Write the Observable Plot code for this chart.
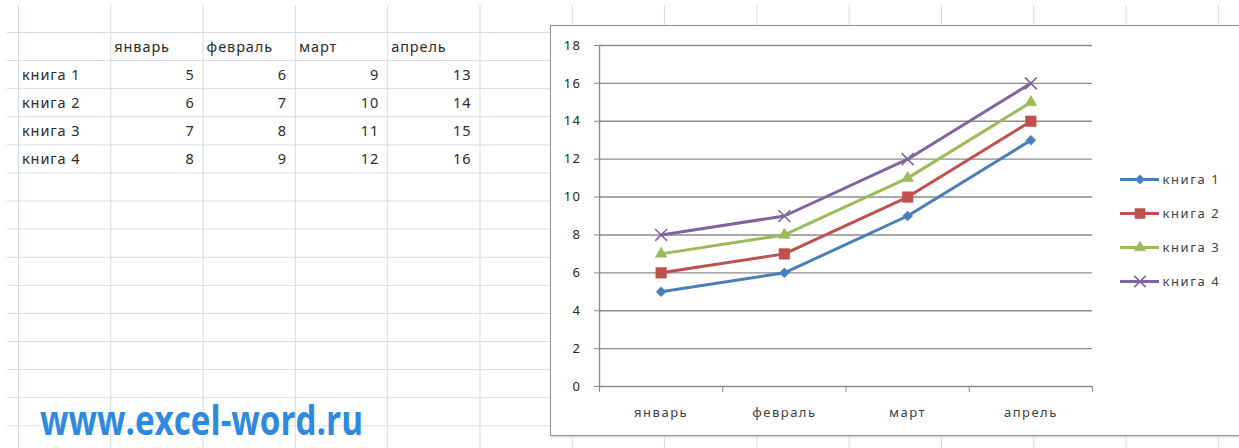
<!DOCTYPE html>
<html><head><meta charset="utf-8">
<script src="https://cdn.jsdelivr.net/npm/d3@7"></script>
<script src="https://cdn.jsdelivr.net/npm/@observablehq/plot@0.6"></script>
<style>
html,body{margin:0;padding:0;background:#fff;}
#page{position:relative;width:1239px;height:448px;overflow:hidden;background:#fff;font-family:"Noto Sans",sans-serif;}
#grid{position:absolute;left:7px;top:5px;right:0;bottom:0;
 background-image:linear-gradient(to right,#d6dbe3 1px,transparent 1px),linear-gradient(to bottom,#d6dbe3 1px,transparent 1px);
 background-size:92.3px 28.1px;background-position:11px 27px;}
.cell{position:absolute;font-size:14.5px;color:#2b2b2b;line-height:28px;height:28px;white-space:nowrap;letter-spacing:0.9px;}
#frame{position:absolute;left:550px;top:25px;width:720px;height:409px;border:1px solid #8f8f8f;background:#fff;box-shadow:1px 1px 2px #ccc;}
#chart{position:absolute;left:0;top:0;}
#chart text{letter-spacing:1.5px;}
#legend{position:absolute;left:1113px;top:162px;}
#legend text{letter-spacing:1.6px;}
#wm{position:absolute;left:40px;top:398px;font-family:"Open Sans",sans-serif;font-weight:700;font-size:42px;line-height:42px;color:#2d8ade;white-space:nowrap;transform-origin:0 0;}
</style></head>
<body><div id="page"><div id="grid"></div><div id="frame"></div><div id="wm">www.excel-word.ru</div></div>
<script>
const months = ["январь", "февраль", "март", "апрель"];
const series = ["книга 1", "книга 2", "книга 3", "книга 4"];
const book1 = [5, 6, 9, 13];
const book2 = [6, 7, 10, 14];
const book3 = [7, 8, 11, 15];
const book4 = [8, 9, 12, 16];
const yTicks = [0, 2, 4, 6, 8, 10, 12, 14, 16, 18];

const values = [book1, book2, book3, book4];
const colors = ["#4a7ebb", "#c0504d", "#9bbb59", "#8064a2"];
const symbols = ["diamond2", "square", "triangle", "times"];
const markerR = [4.5, 6, 4.4, 5.5];

const page = document.getElementById("page");

// spreadsheet table
const colX = [18, 110.3, 202.6, 294.9, 387.2, 479.5];
const rowY = [32, 60.1, 88.2, 116.3, 144.4, 172.5];
function cell(text, x, y, w, align) {
  const d = document.createElement("div");
  d.className = "cell";
  d.textContent = text;
  d.style.top = (y) + "px";
  if (align === "right") { d.style.left = x + "px"; d.style.width = (w - 8) + "px"; d.style.textAlign = "right"; }
  else { d.style.left = (x + 4) + "px"; }
  page.appendChild(d);
}
months.forEach((m, i) => cell(m, colX[i + 1], rowY[0], 92, "left"));
series.forEach((s, k) => {
  cell(s, colX[0], rowY[k + 1], 92, "left");
  values[k].forEach((v, i) => cell(String(v), colX[i + 1], rowY[k + 1], colX[i + 2] - colX[i + 1], "right"));
});

// watermark fit
const wm = document.getElementById("wm");
wm.style.transform = `scaleX(${323 / wm.getBoundingClientRect().width})`;

// chart
const rows = series.flatMap((s, k) => values[k].map((v, i) => ({series: s, month: months[i], i, value: v})));
const monthIdx = months.map((m, i) => i);
const bounds = [-0.5, ...months.map((m, i) => i + 0.5)];
const colorScale = {domain: series, range: colors};
const symbolScale = {domain: series, range: symbols};

function dotsFor(data, xOpt, yOpt, scaleR) {
  return series.map((s, k) => Plot.dot(data.filter(d => d.series === s), {
    x: xOpt, y: yOpt, symbol: "series", r: markerR[k] * scaleR,
    ...(symbols[k] === "times" ? {stroke: "series", fill: "none", strokeWidth: 1.6} : {fill: "series", stroke: "series", strokeWidth: 0.5})
  }));
}

const chart = Plot.plot({
  width: 688, height: 408,
  marginLeft: 48, marginRight: 147, marginTop: 19, marginBottom: 48,
  x: {type: "linear", domain: [-0.5, months.length - 0.5], label: null},
  y: {domain: [0, 18], label: null},
  color: colorScale,
  symbol: symbolScale,
  style: {fontFamily: "Noto Sans", background: "transparent", overflow: "visible"},
  marks: [
    Plot.gridY({ticks: yTicks, stroke: "#8c8c8c", strokeOpacity: 1, strokeWidth: 1.4}),
    Plot.ruleX([-0.5], {stroke: "#8c8c8c", strokeWidth: 1.4}),
    Plot.axisY({ticks: yTicks, tickSize: 5, tickPadding: 13, stroke: "#8c8c8c", fill: "#262626", fontSize: 13, label: null}),
    Plot.axisX({ticks: bounds, tickSize: 6, stroke: "#8c8c8c", fill: "none", label: null}),
    Plot.axisX({ticks: monthIdx, tickSize: 0, tickPadding: 21, tickFormat: i => months[i], fill: "#404040", fontSize: 13, label: null}),
    Plot.line(rows, {x: "i", y: "value", z: "series", stroke: "series", strokeWidth: 3}),
    ...dotsFor(rows, "i", "value", 1)
  ]
});
chart.id = "chart";
document.getElementById("frame").appendChild(chart);

// legend
const legRows = series.map(s => ({series: s}));
const legend = Plot.plot({
  width: 126, height: 140,
  marginLeft: 7, marginRight: 80, marginTop: 17, marginBottom: 21,
  x: {domain: [0, 1], axis: null},
  y: {type: "point", domain: series, padding: 0, axis: null},
  color: colorScale,
  symbol: symbolScale,
  style: {fontFamily: "Noto Sans", background: "transparent", overflow: "visible"},
  marks: [
    Plot.ruleY(legRows, {y: "series", x1: 0, x2: 1, stroke: "series", strokeWidth: 3}),
    ...dotsFor(legRows, () => 0.5, "series", 0.95),
    Plot.text(legRows, {x: 1, y: "series", text: "series", dx: 3, textAnchor: "start", fill: "#404040", fontSize: 13})
  ]
});
legend.id = "legend";
page.appendChild(legend);
</script>
</body></html>
